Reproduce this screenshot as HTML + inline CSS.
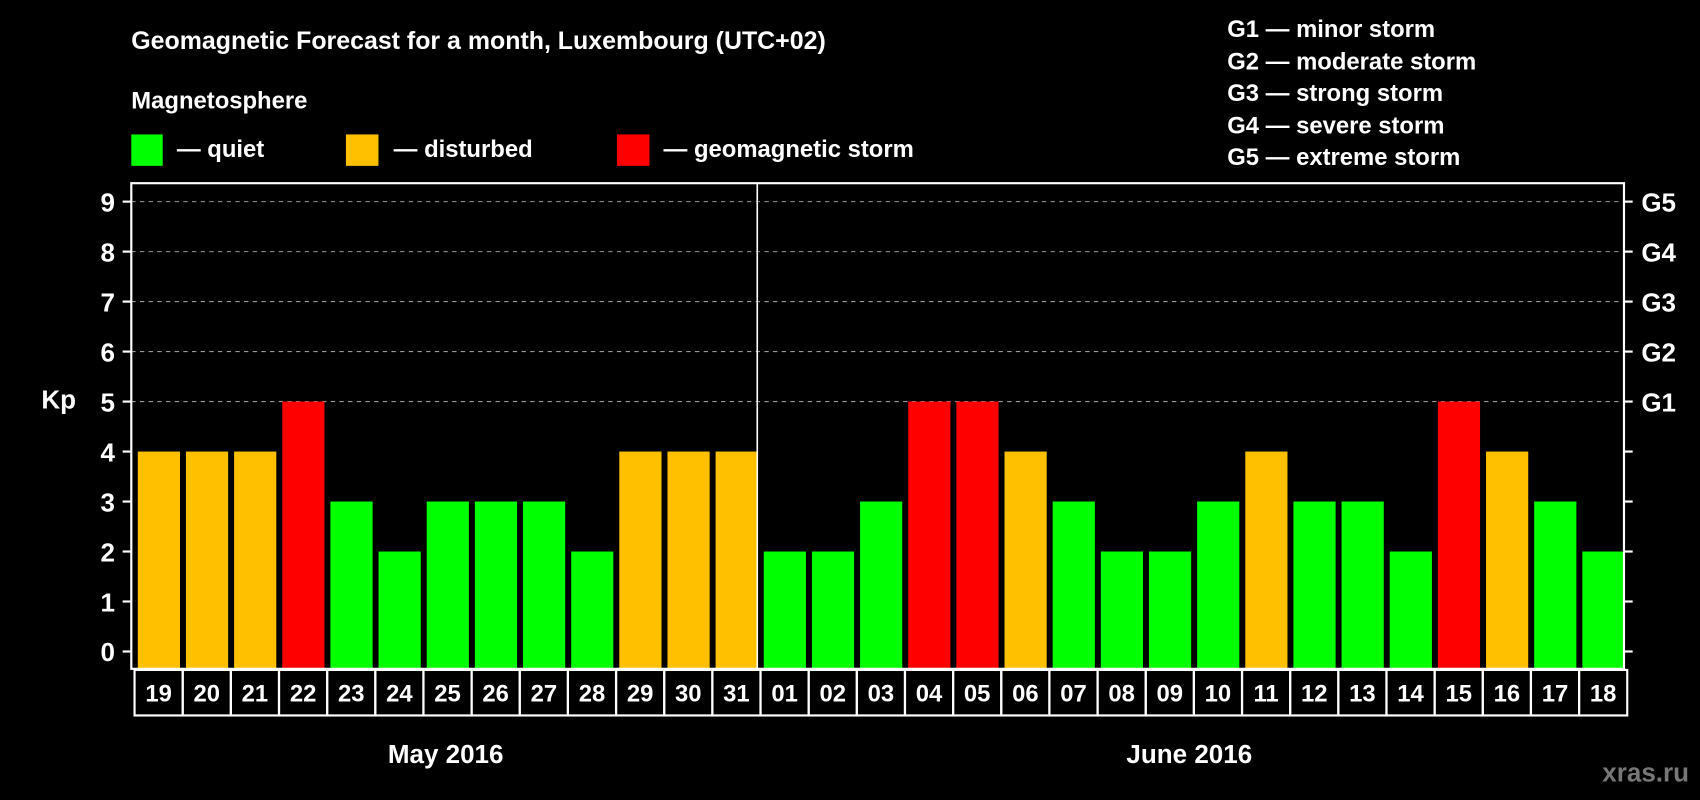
<!DOCTYPE html>
<html><head><meta charset="utf-8"><style>
html,body{margin:0;padding:0;background:#000;}
svg{display:block;}
text{font-family:"Liberation Sans",Arial,sans-serif;font-weight:bold;fill:#fff;}
</style></head><body>
<svg id="chart" width="1700" height="800" viewBox="0 0 1568 738" xmlns="http://www.w3.org/2000/svg">
<rect width="1568" height="738" fill="#000"/>
<text x="121" y="45" font-size="23">Geomagnetic Forecast for a month, Luxembourg (UTC+02)</text>
<text x="121" y="100" font-size="22">Magnetosphere</text>
<g><rect x="121" y="124" width="29" height="29" fill="#00ff00"/><text x="163" y="145" font-size="22">— quiet</text></g>
<g><rect x="319" y="124" width="30" height="29" fill="#ffc000"/><text x="363" y="145" font-size="22">— disturbed</text></g>
<g><rect x="569" y="124" width="30" height="29" fill="#ff0000"/><text x="612" y="145" font-size="22">— geomagnetic storm</text></g>
<g font-size="22">
<text x="1132" y="34">G1 — minor storm</text>
<text x="1132" y="64">G2 — moderate storm</text>
<text x="1132" y="93">G3 — strong storm</text>
<text x="1132" y="123">G4 — severe storm</text>
<text x="1132" y="152">G5 — extreme storm</text>
</g>
<text x="38" y="377" font-size="24">Kp</text>
<g id="grid"></g>
<g id="bars"></g>
<g id="axes"></g>
<g id="dates"></g>
<text x="411" y="704" font-size="24" text-anchor="middle">May 2016</text>
<text x="1097" y="704" font-size="24" text-anchor="middle">June 2016</text>
<text x="1558" y="721" font-size="24" text-anchor="end" style="fill:#777">xras.ru</text>
</svg>
<script>
const days = ["19","20","21","22","23","24","25","26","27","28","29","30","31","01","02","03","04","05","06","07","08","09","10","11","12","13","14","15","16","17","18"];
const kpValues = [4,4,4,5,3,2,3,3,3,2,4,4,4,2,2,3,5,5,4,3,2,2,3,4,3,3,2,5,4,3,2];
const yTicks = ["0","1","2","3","4","5","6","7","8","9"];
const gLabels = ["G1","G2","G3","G4","G5"];
const ns = "http://www.w3.org/2000/svg";
const L = 121, R = 1498, T = 169, B = 617;
const step = (R - L) / days.length;
const y = v => 601 - v * (601 - 186) / 9;
const x = i => L + i * step;
function mk(tag, attrs, parent) {
  const e = document.createElementNS(ns, tag);
  for (const k in attrs) e.setAttribute(k, attrs[k]);
  parent.appendChild(e);
  return e;
}
const grid = document.getElementById('grid');
const axes = document.getElementById('axes');
const barsG = document.getElementById('bars');
const datesG = document.getElementById('dates');
yTicks.forEach((t, i) => {
  const v = +t;
  if (v >= 5) {
    const gl = mk('line', {x1: L, x2: R, y1: y(v), y2: y(v), stroke: '#999', 'stroke-width': 1, 'stroke-dasharray': '4,4'}, grid);
    
    
  }
  const tk = mk('line', {x1: L - 8, x2: L, y1: y(v), y2: y(v), stroke: '#fff', 'stroke-width': 2}, axes);
  
  
  const tr = mk('line', {x1: R, x2: R + 8, y1: y(v), y2: y(v), stroke: '#fff', 'stroke-width': 2}, axes);
  
  
  const lb = mk('text', {x: 106, y: y(v) + 9, 'font-size': 24, 'text-anchor': 'end'}, axes);
  lb.textContent = t;
  
  
});
gLabels.forEach((g, i) => {
  const lb = mk('text', {x: 1514, y: y(5 + i) + 9, 'font-size': 24}, axes);
  lb.textContent = g;
  
  
});
const colorFor = v => v >= 5 ? '#ff0000' : (v === 4 ? '#ffc000' : '#00ff00');
kpValues.forEach((v, i) => {
  const b = mk('rect', {x: x(i) + 6, y: y(v), width: step - 5.5, height: B - y(v), fill: colorFor(v)}, barsG);
  
  
});
const frame = mk('rect', {x: L, y: T, width: R - L, height: B - T, fill: 'none', stroke: '#fff', 'stroke-width': 2}, axes);


const div = mk('line', {x1: x(13), x2: x(13), y1: T, y2: B, stroke: '#fff', 'stroke-width': 1.5}, axes);


days.forEach((d, i) => {
  const c = mk('rect', {x: x(i) + 3, y: 618, width: step, height: 42, fill: 'none', stroke: '#fff', 'stroke-width': 2}, datesG);
  
  
  const t = mk('text', {x: x(i) + 3 + step / 2, y: 647, 'font-size': 22, 'text-anchor': 'middle'}, datesG);
  t.textContent = d;
  
  
});
</script>
</body></html>
